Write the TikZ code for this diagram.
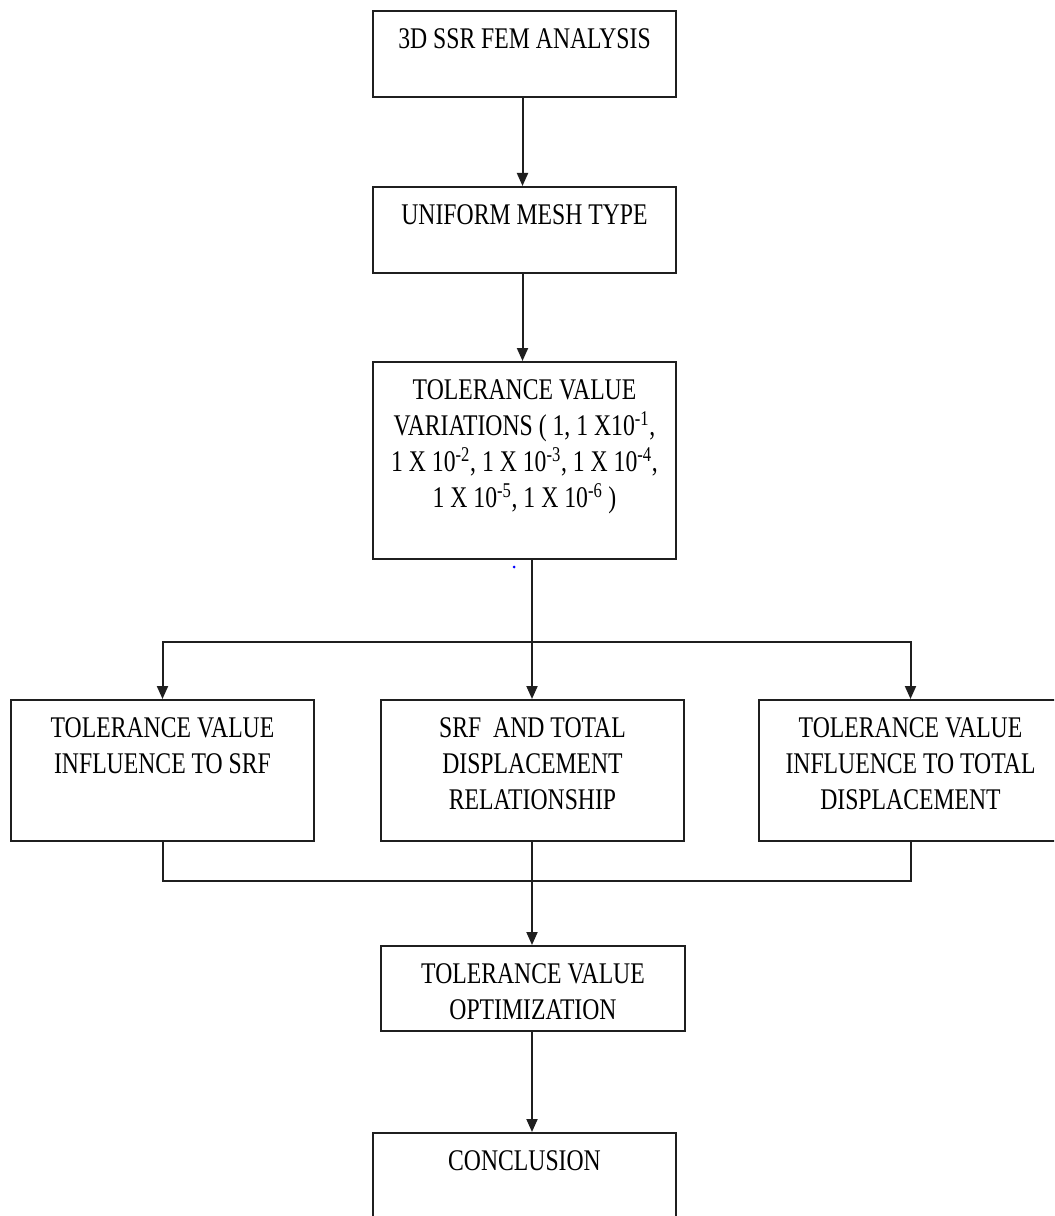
\documentclass[tikz,border=0pt]{standalone}
\usepackage{fontspec}
\setmainfont{Liberation Serif}[FakeStretch=0.79]
\usetikzlibrary{arrows.meta}
\newdimen\pxu \pxu=0.75pt
\newcommand\bx[3]{\parbox[c][#2\pxu][t]{#1\pxu}{\centering\vspace*{13.5pt}#3\par}}
\tikzset{
  box/.style={draw=black!88, line width=1.5pt, inner sep=0pt, fill=white},
  conn/.style={draw=black!88, line width=1.5pt},
  arr/.style={conn, -{Triangle[length=9.75pt, width=8.25pt]}},
}
\begin{document}
\begin{tikzpicture}[x=0.75pt, y=-0.75pt, font=\fontsize{22.5}{27}\selectfont]
\useasboundingbox (0,0) rectangle (1054,1216);
\clip (0,0) rectangle (1054,1216);
\node[box] (b1) at (524.5,54) {\bx{303}{86}{3D SSR FEM ANALYSIS}};
\node[box] (b2) at (524.5,230) {\bx{303}{86}{UNIFORM MESH TYPE}};
\node[box] (b3) at (524.5,460.5) {\bx{303}{197}{TOLERANCE VALUE\\VARIATIONS ( 1, 1 X10\textsuperscript{-1},\\1 X 10\textsuperscript{-2}, 1 X 10\textsuperscript{-3}, 1 X 10\textsuperscript{-4},\\1 X 10\textsuperscript{-5}, 1 X 10\textsuperscript{-6} )}};
\node[box] (b4) at (162.5,770.5) {\bx{303}{141}{TOLERANCE VALUE\\INFLUENCE TO SRF}};
\node[box] (b5) at (532.5,770.5) {\bx{303}{141}{SRF\ \ AND TOTAL\\DISPLACEMENT\\RELATIONSHIP}};
\node[box] (b6) at (910.5,770.5) {\bx{303}{141}{TOLERANCE VALUE\\INFLUENCE TO TOTAL\\DISPLACEMENT}};
\node[box] (b7) at (533,988.5) {\bx{304}{85}{TOLERANCE VALUE\\OPTIMIZATION}};
\node[box] (b8) at (524.5,1176) {\bx{303}{86}{CONCLUSION}};
\coordinate (split) at (532,642);
\coordinate (merge) at (532,881);
\fill[blue] (514,567) circle (1.5);
\draw[arr] ([xshift=-1.5pt]b1.south) -- ([xshift=-1.5pt]b2.north);
\draw[arr] ([xshift=-1.5pt]b2.south) -- ([xshift=-1.5pt]b3.north);
\draw[conn] (b3.south -| split) -- (split);
\draw[arr] (split) -| (b4.north);
\draw[arr] (split) -| (b6.north);
\draw[arr] (split) -- (split |- b5.north);
\draw[conn] (b4.south) |- (merge);
\draw[conn] (b6.south) |- (merge);
\draw[conn] (b5.south -| merge) -- (merge);
\draw[arr] (merge) -- (merge |- b7.north);
\draw[arr] (b7.south -| merge) -- (merge |- b8.north);
\end{tikzpicture}
\end{document}
